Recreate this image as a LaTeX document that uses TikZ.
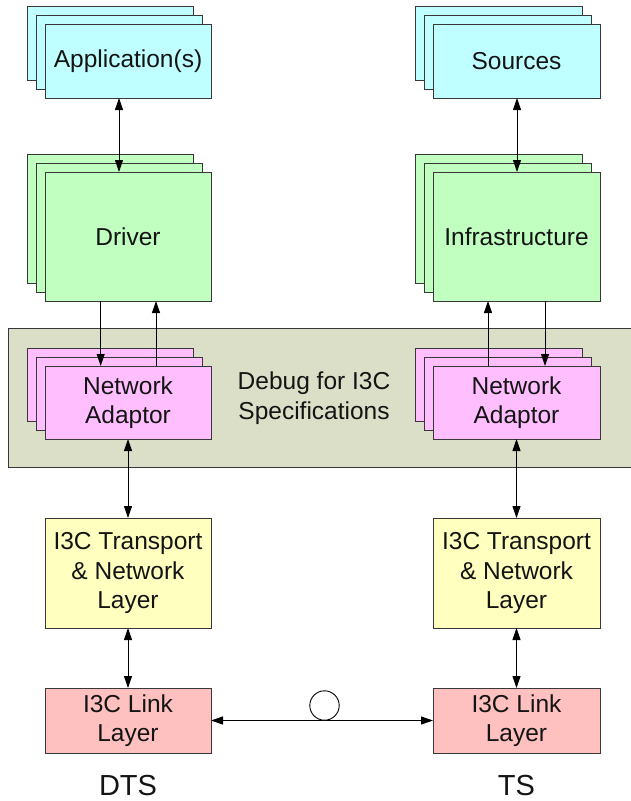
\documentclass[tikz,border=0pt]{standalone}
\usepackage{fontspec}
\setmainfont{Liberation Sans}
\usetikzlibrary{arrows.meta}
\definecolor{cyanF}{HTML}{C0FFFF}
\definecolor{greenF}{HTML}{C0FFC0}
\definecolor{pinkF}{HTML}{FFBFFF}
\definecolor{grayF}{HTML}{DCDFC8}
\definecolor{yellowF}{HTML}{FFFFC0}
\definecolor{redF}{HTML}{FFC0C0}
\definecolor{edge}{HTML}{383838}
\definecolor{txt}{HTML}{141414}
\tikzset{
  box/.style={draw=edge, line width=1pt, inner sep=0pt, outer sep=0pt, align=center,
    text=txt, font=\fontsize{24.5}{29.4}\selectfont, minimum width=166pt},
  backbox/.style={draw=edge, line width=1pt},
  arr/.style={draw=black, line width=0.9pt, -{Triangle[length=12pt,width=8pt]}},
  darr/.style={draw=black, line width=0.9pt, {Triangle[length=12pt,width=8pt]}-{Triangle[length=12pt,width=8pt]}},
  lbl/.style={text=txt, font=\fontsize{29}{34}\selectfont, inner sep=0pt},
}
\begin{document}
\begin{tikzpicture}[x=1pt,y=-1pt]
\useasboundingbox (0,0) rectangle (631,801);
\fill[white] (0,0) rectangle (631,801);

% debug background
\draw[backbox, fill=grayF] (8,328) rectangle (640,467);
\node[text=txt, font=\fontsize{24.5}{29.4}\selectfont, align=center, inner sep=0pt] (dbg) at (314,398) {Debug for I3C\\Specifications};

% Application stack
\draw[backbox, fill=cyanF] (27,6) rectangle (193,80);
\draw[backbox, fill=cyanF] (36,15) rectangle (202,89);
\node[box, fill=cyanF, minimum height=74pt] (app) at (128,61) {Application(s)};
% Sources stack
\draw[backbox, fill=cyanF] (415,6) rectangle (582,80);
\draw[backbox, fill=cyanF] (424,15) rectangle (591,89);
\node[box, fill=cyanF, minimum height=74pt, minimum width=167pt] (src) at (516.5,61) {Sources};

% Driver stack
\draw[backbox, fill=greenF] (27,154) rectangle (193,283);
\draw[backbox, fill=greenF] (36,163) rectangle (202,292);
\node[box, fill=greenF, minimum height=129pt] (drv) at (128,236.5) {Driver};
% Infrastructure stack
\draw[backbox, fill=greenF] (415,154) rectangle (582,283);
\draw[backbox, fill=greenF] (424,163) rectangle (591,292);
\node[box, fill=greenF, minimum height=129pt, minimum width=167pt] (inf) at (516.5,236.5) {Infrastructure};

% Network adaptor stacks
\draw[backbox, fill=pinkF] (27,348) rectangle (193,421);
\draw[backbox, fill=pinkF] (36,357) rectangle (202,430);
\node[box, fill=pinkF, minimum height=73pt] (nal) at (128,402.5) {Network\\Adaptor};
\draw[backbox, fill=pinkF] (415,348) rectangle (582,421);
\draw[backbox, fill=pinkF] (424,357) rectangle (591,430);
\node[box, fill=pinkF, minimum height=73pt, minimum width=167pt] (nar) at (516.5,402.5) {Network\\Adaptor};

% Transport
\node[box, fill=yellowF, minimum height=110pt] (trl) at (128,573) {I3C Transport\\\& Network\\Layer};
\node[box, fill=yellowF, minimum height=110pt, minimum width=167pt] (trr) at (516.5,573) {I3C Transport\\\& Network\\Layer};

% Link
\node[box, fill=redF, minimum height=65pt] (lkl) at (128,720.5) {I3C Link\\Layer};
\node[box, fill=redF, minimum height=65pt, minimum width=167pt] (lkr) at (516.5,720.5) {I3C Link\\Layer};

% labels
\node[lbl] (dts) at (128,786) {DTS};
\node[lbl] (ts) at (516.5,786) {TS};

% connectors
\draw[darr] ([xshift=-9pt]app.south) -- ([xshift=-9pt]drv.north);
\draw[darr] ([xshift=0.5pt]src.south) -- ([xshift=0.5pt]inf.north);

\draw[arr] ([xshift=-27.3pt]drv.south) -- ([xshift=-27.3pt]nal.north);
\draw[arr] ([xshift=28pt]nal.north) -- ([xshift=28pt]drv.south);
\draw[arr] ([xshift=-28.5pt]nar.north) -- ([xshift=-28.5pt]inf.south);
\draw[arr] ([xshift=28.5pt]inf.south) -- ([xshift=28.5pt]nar.north);

\draw[darr] (nal.south) -- (trl.north);
\draw[darr] (nar.south) -- (trr.north);
\draw[darr] (trl.south) -- (lkl.north);
\draw[darr] (trr.south) -- (lkr.north);

\draw[darr] (lkl.east) -- (lkr.west);
\node[circle, draw=black, line width=0.9pt, fill=white, minimum size=29.4pt, inner sep=0pt] (ring) at (324.5,705.5) {};
\end{tikzpicture}
\end{document}
